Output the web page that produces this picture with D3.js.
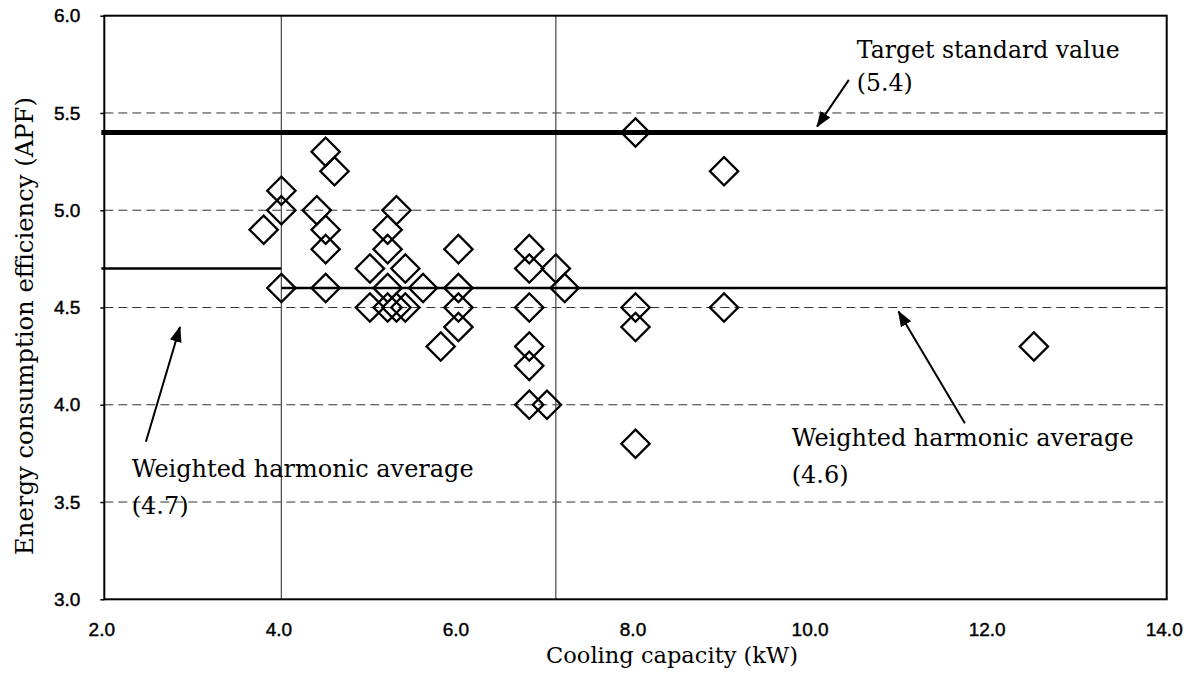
<!DOCTYPE html>
<html>
<head>
<meta charset="utf-8">
<script src="https://cdn.jsdelivr.net/npm/d3@7"></script>
<style>
  html, body { margin: 0; padding: 0; background: #fff; }
  svg { display: block; }
</style>
</head>
<body>
<svg id="chart" width="1194" height="690"></svg>
<script>
// ---------------- DATA ----------------
const capacityKW = [3.8, 4.0, 4.0, 4.0, 4.4, 4.5, 4.5, 4.5, 4.5, 4.6,
                    5.0, 5.0, 5.2, 5.2, 5.2, 5.2, 5.3, 5.3, 5.4, 5.4,
                    5.6, 5.8, 6.0, 6.0, 6.0, 6.0, 6.8, 6.8, 6.8, 6.8,
                    6.8, 6.8, 7.0, 7.1, 7.2, 8.0, 8.0, 8.0, 8.0, 9.0,
                    9.0, 12.5];
const apfValues  = [4.9, 5.1, 5.0, 4.6, 5.0, 5.3, 4.9, 4.8, 4.6, 5.2,
                    4.7, 4.5, 4.9, 4.8, 4.6, 4.5, 5.0, 4.5, 4.7, 4.5,
                    4.6, 4.3, 4.8, 4.6, 4.5, 4.4, 4.8, 4.7, 4.5, 4.3,
                    4.2, 4.0, 4.0, 4.7, 4.6, 5.4, 4.5, 4.4, 3.8, 5.2,
                    4.5, 4.3];

const xTicks = [2, 4, 6, 8, 10, 12, 14];
const yTicks = [3.0, 3.5, 4.0, 4.5, 5.0, 5.5, 6.0];
const yGridDashed = [3.5, 4.0, 4.5, 5.0, 5.5];
const capacityDividers = [4.0, 7.1];

const targetValue = 5.4;
const avgSegments = [
  { x0: 2.0, x1: 4.0, y: 4.7 },
  { x0: 4.0, x1: 14.0, y: 4.6 }
];

const xLabel = "Cooling capacity (kW)";
const yLabel = "Energy consumption efficiency (APF)";

// annotation texts + arrows (data units)
const annotations = [
  { lines: ["Target standard value", "(5.4)"], x: 10.50, y: [5.78, 5.615],
    arrow: { x1: 10.41, y1: 5.67, x2: 10.05, y2: 5.43 } },
  { lines: ["Weighted harmonic average", "(4.7)"], x: 2.31, y: [3.63, 3.44],
    arrow: { x1: 2.47, y1: 3.81, x2: 2.855, y2: 4.40 } },
  { lines: ["Weighted harmonic average", "(4.6)"], x: 9.765, y: [3.79, 3.60],
    arrow: { x1: 11.72, y1: 3.905, x2: 10.97, y2: 4.48 } }
];

// ---------------- LAYOUT ----------------
const svg = d3.select("#chart");
const L = 104.3, R = 1166.7, T = 15.7, B = 599.3;
const x = d3.scaleLinear().domain([2, 14]).range([L, R]);
const y = d3.scaleLinear().domain([3, 6]).range([B, T]);

const serif = "'DejaVu Serif', 'Liberation Serif', serif";
const sans = "'Liberation Sans', Arial, sans-serif";

function fitWidth(sel, target) {
  const fs = parseFloat(sel.style("font-size"));
  const w = sel.node().getComputedTextLength();
  sel.style("font-size", (fs * target / w).toFixed(2) + "px");
}

// dashed gridlines
svg.append("g").selectAll("line").data(yGridDashed).join("line")
  .attr("x1", L).attr("x2", R)
  .attr("y1", d => y(d)).attr("y2", d => y(d))
  .attr("stroke", "#333").attr("stroke-width", 1)
  .attr("stroke-dasharray", "9,5");

// vertical dividers
svg.append("g").selectAll("line").data(capacityDividers).join("line")
  .attr("x1", d => x(d)).attr("x2", d => x(d))
  .attr("y1", T).attr("y2", B)
  .attr("stroke", "#555").attr("stroke-width", 1.3);

// average lines
svg.append("g").selectAll("line").data(avgSegments).join("line")
  .attr("x1", d => x(d.x0) - (d.x0 === 2 ? 3 : 0)).attr("x2", d => x(d.x1))
  .attr("y1", d => y(d.y)).attr("y2", d => y(d.y))
  .attr("stroke", "#000").attr("stroke-width", 2.5);

// target line
svg.append("line")
  .attr("x1", x(2) - 3).attr("x2", x(14))
  .attr("y1", y(targetValue)).attr("y2", y(targetValue))
  .attr("stroke", "#000").attr("stroke-width", 5);

// axes
const yAxis = d3.axisLeft(y).tickValues(yTicks).tickFormat(d3.format(".1f"))
  .tickSizeInner(4).tickSizeOuter(0).tickPadding(20);
const gy = svg.append("g").attr("transform", `translate(${L},0)`).call(yAxis);
gy.select(".domain").remove();
gy.selectAll(".tick line").attr("stroke", "#000").attr("stroke-width", 1.5);
gy.selectAll("text").style("font-family", sans).style("font-size", "19px")
  .attr("fill", "#000").attr("stroke", "#000").attr("stroke-width", 0.45);

const xAxis = d3.axisBottom(x).tickValues(xTicks).tickFormat(d3.format(".1f"))
  .tickSize(0).tickPadding(23);
const gx = svg.append("g").attr("transform", `translate(0,${B})`).call(xAxis);
gx.select(".domain").remove();
gx.selectAll("text").style("font-family", sans).style("font-size", "19px")
  .attr("fill", "#000").attr("stroke", "#000").attr("stroke-width", 0.45).attr("dx", -3);

// frame
svg.append("rect").attr("x", L).attr("y", T).attr("width", R - L).attr("height", B - T)
  .attr("fill", "none").attr("stroke", "#000").attr("stroke-width", 2);

// points (diamonds)
const pts = capacityKW.map((c, i) => ({ c, v: apfValues[i] }));
const diamond = d3.symbol().type(d3.symbolSquare).size(400);
svg.append("g").selectAll("path").data(pts).join("path")
  .attr("d", diamond)
  .attr("transform", d => `translate(${x(d.c)},${y(d.v)}) rotate(45)`)
  .attr("fill", "none").attr("stroke", "#000").attr("stroke-width", 2.3);

// arrow marker
svg.append("defs").append("marker")
  .attr("id", "ah").attr("viewBox", "0 0 16 16").attr("refX", 15).attr("refY", 8)
  .attr("markerUnits", "userSpaceOnUse").attr("markerWidth", 16).attr("markerHeight", 16)
  .attr("orient", "auto")
  .append("path").attr("d", "M0,2 L16,8 L0,14 Z").attr("fill", "#000");

// annotations
annotations.forEach(a => {
  svg.append("line")
    .attr("x1", x(a.arrow.x1)).attr("y1", y(a.arrow.y1))
    .attr("x2", x(a.arrow.x2)).attr("y2", y(a.arrow.y2))
    .attr("stroke", "#000").attr("stroke-width", 2).attr("marker-end", "url(#ah)");
  let fsFirst = null;
  a.lines.forEach((t, i) => {
    const tx = svg.append("text").attr("x", x(a.x)).attr("y", y(a.y[i]))
      .style("font-family", serif).style("font-size", "22px").attr("fill", "#000").text(t);
    if (i === 0) { fitWidth(tx, t.startsWith("Target") ? 263 : 342); fsFirst = tx.style("font-size"); }
    else tx.style("font-size", fsFirst);
  });
});

// axis titles
const xt = svg.append("text").attr("x", 672).attr("y", 663).attr("text-anchor", "middle")
  .style("font-family", serif).style("font-size", "22px").attr("fill", "#000").text(xLabel);
fitWidth(xt, 252);
const yt = svg.append("text").attr("transform", "translate(33,326) rotate(-90)")
  .attr("text-anchor", "middle")
  .style("font-family", serif).style("font-size", "22px").attr("fill", "#000").text(yLabel);
fitWidth(yt, 458);
</script>
</body>
</html>
